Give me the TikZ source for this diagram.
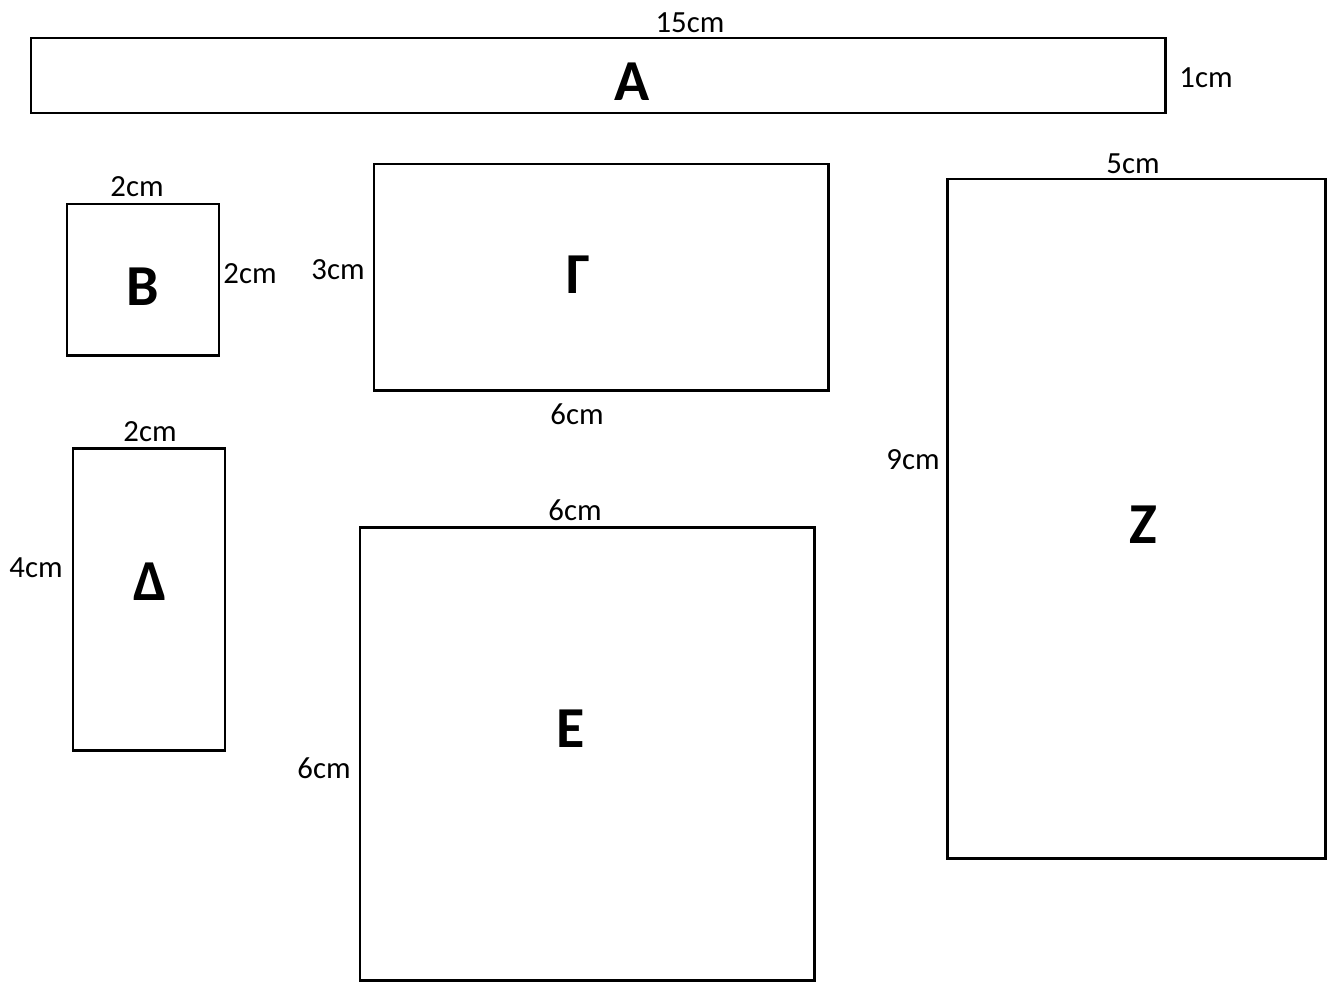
\documentclass[tikz,border=0pt]{standalone}
\usepackage{fontspec}
\setmainfont{Carlito}
\begin{document}
\begin{tikzpicture}[x=0.02cm,y=-0.02cm,
  box/.style={draw=black,line width=1.7pt,fill=white},
  big/.style={font=\fontsize{33}{36}\selectfont\bfseries,inner sep=0pt},
  dim/.style={font=\fontsize{17.5}{20}\selectfont,inner sep=0pt}]
\useasboundingbox[fill=white] (0,0) rectangle (1329,981);
% A
\draw[box] (31,38) rectangle (1165,113);
\node[big] (la) at (632,82) {A};
\node[dim] (a1) at (690,23) {15cm};
\node[dim] (a2) at (1206,78) {1cm};
% B
\draw[box] (67,204) rectangle (219,355);
\node[big] (lb) at (143,287) {B};
\node[dim] (b1) at (137,187) {2cm};
\node[dim] (b2) at (250,274) {2cm};
% Gamma
\draw[box] (374,164) rectangle (828,390);
\node[big] (lg) at (578,275) {Γ};
\node[dim] (g1) at (338,270) {3cm};
\node[dim] (g2) at (577,414) {6cm};
% Delta
\draw[box] (73,448) rectangle (225,750);
\node[big] (ld) at (150,582) {Δ};
\node[dim] (d1) at (150,432) {2cm};
\node[dim] (d2) at (36,568) {4cm};
% E
\draw[box] (360,527) rectangle (814,980);
\node[big] (le) at (571,729) {Ε};
\node[dim] (e1) at (575,510) {6cm};
\node[dim] (e2) at (324,768) {6cm};
% Z
\draw[box] (947,179) rectangle (1325,858);
\node[big] (lz) at (1143,525) {Ζ};
\node[dim] (z1) at (1133,164) {5cm};
\node[dim] (z2) at (913,460) {9cm};
\end{tikzpicture}
\end{document}
